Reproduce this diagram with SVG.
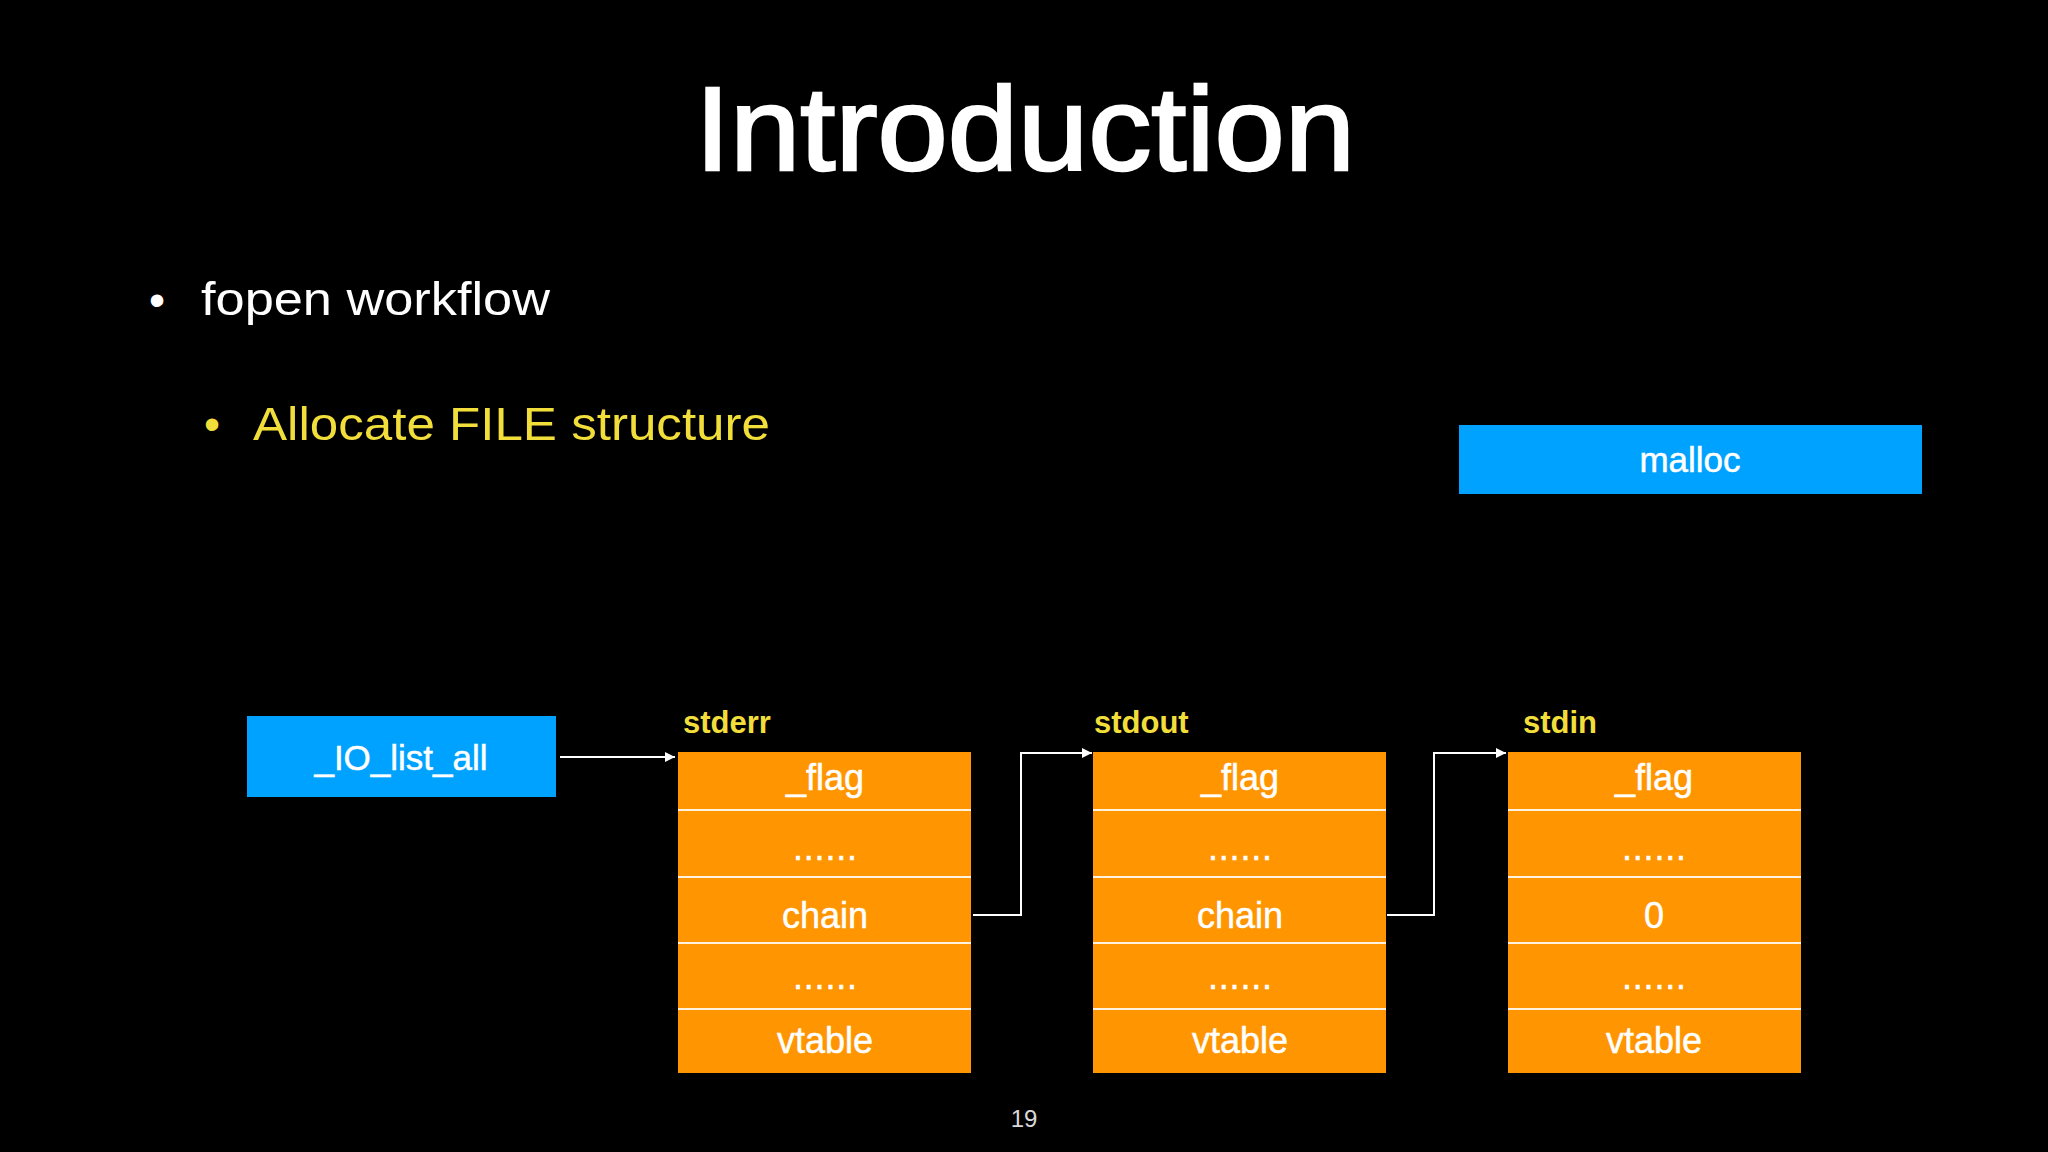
<svg xmlns="http://www.w3.org/2000/svg" width="2048" height="1152" viewBox="0 0 2048 1152">
  <style>
    text { font-family: "Liberation Sans", Arial, sans-serif; }
    .title { fill: #ffffff; font-size: 119px; stroke: #ffffff; stroke-width: 2.5px; }
    .b1 { fill: #ffffff; font-size: 46px; }
    .b2 { fill: #F2DE3A; font-size: 46px; }
    .blue { fill: #00A2FF; }
    .btxt { fill: #ffffff; font-size: 35px; text-anchor: middle; stroke: #ffffff; stroke-width: 0.5px; }
    .label { fill: #F2DE3A; font-size: 31px; font-weight: bold; }
    .cell { fill: #FF9500; }
    .sep { stroke: #FFF3E0; stroke-width: 2; }
    .ctxt { fill: #ffffff; font-size: 36px; text-anchor: middle; stroke: #ffffff; stroke-width: 0.5px; }
    .conn { fill: none; stroke: #ffffff; stroke-width: 2; }
    .pg { fill: #d8d8d8; font-size: 24px; text-anchor: middle; }
  </style>
  <defs>
    <marker id="arrow" markerUnits="userSpaceOnUse" markerWidth="11" markerHeight="11" refX="10" refY="5" orient="auto">
      <path d="M0,0 L10,5 L0,10 z" fill="#ffffff"/>
    </marker>
  </defs>
  <rect x="0" y="0" width="2048" height="1152" fill="#000000"/>

  <text class="title" x="1025" y="170" text-anchor="middle" textLength="660" lengthAdjust="spacingAndGlyphs">Introduction</text>

  <text class="b1" x="149" y="316">•</text>
  <text class="b1" x="201" y="315" textLength="349" lengthAdjust="spacingAndGlyphs">fopen workflow</text>
  <text class="b2" x="204" y="440">•</text>
  <text class="b2" x="253" y="440" textLength="517" lengthAdjust="spacingAndGlyphs">Allocate FILE structure</text>

  <g id="malloc">
    <rect class="blue" x="1459" y="425" width="463" height="69"/>
    <text class="btxt" x="1690" y="472">malloc</text>
  </g>

  <g id="io_list_all">
    <rect class="blue" x="247" y="716" width="309" height="81"/>
    <text class="btxt" x="401" y="770">_IO_list_all</text>
  </g>

  <g id="stderr">
    <text class="label" x="683" y="733">stderr</text>
    <rect class="cell" x="678" y="752" width="293" height="321"/>
    <line class="sep" x1="678" y1="810" x2="971" y2="810"/>
    <line class="sep" x1="678" y1="877" x2="971" y2="877"/>
    <line class="sep" x1="678" y1="943" x2="971" y2="943"/>
    <line class="sep" x1="678" y1="1009" x2="971" y2="1009"/>
    <text class="ctxt" x="825" y="790">_flag</text>
    <text class="ctxt" x="825" y="860" textLength="64">......</text>
    <text class="ctxt" x="825" y="928">chain</text>
    <text class="ctxt" x="825" y="989" textLength="64">......</text>
    <text class="ctxt" x="825" y="1053">vtable</text>
  </g>

  <g id="stdout">
    <text class="label" x="1094" y="733">stdout</text>
    <rect class="cell" x="1093" y="752" width="293" height="321"/>
    <line class="sep" x1="1093" y1="810" x2="1386" y2="810"/>
    <line class="sep" x1="1093" y1="877" x2="1386" y2="877"/>
    <line class="sep" x1="1093" y1="943" x2="1386" y2="943"/>
    <line class="sep" x1="1093" y1="1009" x2="1386" y2="1009"/>
    <text class="ctxt" x="1240" y="790">_flag</text>
    <text class="ctxt" x="1240" y="860" textLength="64">......</text>
    <text class="ctxt" x="1240" y="928">chain</text>
    <text class="ctxt" x="1240" y="989" textLength="64">......</text>
    <text class="ctxt" x="1240" y="1053">vtable</text>
  </g>

  <g id="stdin">
    <text class="label" x="1523" y="733">stdin</text>
    <rect class="cell" x="1508" y="752" width="293" height="321"/>
    <line class="sep" x1="1508" y1="810" x2="1801" y2="810"/>
    <line class="sep" x1="1508" y1="877" x2="1801" y2="877"/>
    <line class="sep" x1="1508" y1="943" x2="1801" y2="943"/>
    <line class="sep" x1="1508" y1="1009" x2="1801" y2="1009"/>
    <text class="ctxt" x="1654" y="790">_flag</text>
    <text class="ctxt" x="1654" y="860" textLength="64">......</text>
    <text class="ctxt" x="1654" y="928">0</text>
    <text class="ctxt" x="1654" y="989" textLength="64">......</text>
    <text class="ctxt" x="1654" y="1053">vtable</text>
  </g>

  <g id="connectors">
    <path class="conn" d="M560,757 L675,757" marker-end="url(#arrow)"/>
    <path class="conn" d="M973,915 L1021,915 L1021,753 L1092,753" marker-end="url(#arrow)"/>
    <path class="conn" d="M1387,915 L1434,915 L1434,753 L1506,753" marker-end="url(#arrow)"/>
  </g>

  <text class="pg" x="1024" y="1127">19</text>
</svg>
